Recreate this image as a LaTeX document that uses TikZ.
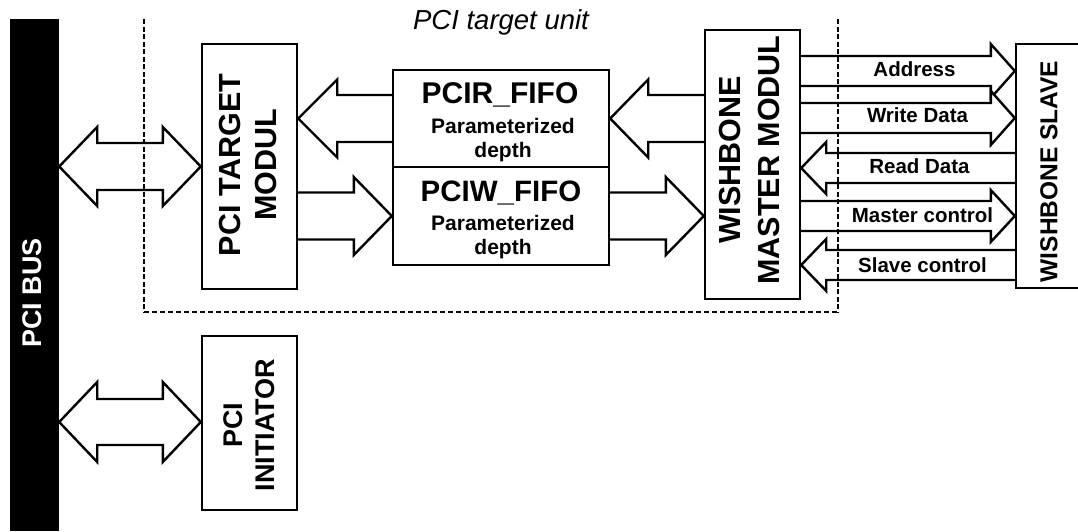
\documentclass[tikz,border=0pt]{standalone}
\usepackage{fontspec}
\setmainfont{Liberation Sans}
\usetikzlibrary{calc}
\tikzset{
  fat/.style={draw, line width=2.4pt, fill=white, line join=miter},
  box/.style={draw, line width=2.4pt, fill=white, inner sep=0pt},
  rotlab/.style={rotate=90, align=center, inner sep=0pt},
  unitv/.style={line width=1.3pt, dash pattern=on 5pt off 2.5pt},
  unith/.style={line width=2pt, dash pattern=on 5pt off 3pt},
  siglab/.style={anchor=base, inner sep=0pt, font=\bfseries\fontsize{20.5}{24}\selectfont},
}
% arrow pointing right: tail point #1, tip point #2 (y from tip), shaft half #3, head half #4, head length #5
\newcommand{\fatRight}[5]{%
  \draw[fat] let \p1=(#1), \p2=(#2) in
    (\x1,\y2+#3pt) -- (\x2-#5pt,\y2+#3pt) -- (\x2-#5pt,\y2+#4pt) -- (\x2,\y2)
    -- (\x2-#5pt,\y2-#4pt) -- (\x2-#5pt,\y2-#3pt) -- (\x1,\y2-#3pt);}
\newcommand{\fatLeft}[5]{%
  \draw[fat] let \p1=(#1), \p2=(#2) in
    (\x1,\y2+#3pt) -- (\x2+#5pt,\y2+#3pt) -- (\x2+#5pt,\y2+#4pt) -- (\x2,\y2)
    -- (\x2+#5pt,\y2-#4pt) -- (\x2+#5pt,\y2-#3pt) -- (\x1,\y2-#3pt);}
% double arrow: left tip #1, right tip #2 (y from #2)
\newcommand{\fatBoth}[5]{%
  \draw[fat] let \p1=(#1), \p2=(#2) in
    (\x1,\y2) -- (\x1+#5pt,\y2+#4pt) -- (\x1+#5pt,\y2+#3pt) -- (\x2-#5pt,\y2+#3pt)
    -- (\x2-#5pt,\y2+#4pt) -- (\x2,\y2) -- (\x2-#5pt,\y2-#4pt) -- (\x2-#5pt,\y2-#3pt)
    -- (\x1+#5pt,\y2-#3pt) -- (\x1+#5pt,\y2-#4pt) -- cycle;}
\begin{document}
\begin{tikzpicture}[x=1pt, y=-1pt]
\clip (0,0) rectangle (1078,531);
\fill[white] (0,0) rectangle (1078,531);

% boxes
\node[fill=black, inner sep=0pt, minimum width=49pt, minimum height=512pt] (bus) at (34.5,275) {};
\node[box, minimum width=95pt, minimum height=245pt] (target) at (249.5,166.5) {};
\node[box, minimum width=216pt, minimum height=97pt] (rfifo) at (501,118.5) {};
\node[box, minimum width=216pt, minimum height=98pt] (wfifo) at (501,216) {};
\node[box, minimum width=95pt, minimum height=269pt] (wbm) at (752.5,164.5) {};
\node[box, minimum width=90pt, minimum height=244pt] (wbs) at (1061,166) {};
\node[box, minimum width=95pt, minimum height=174pt] (init) at (249.5,423) {};

% fat arrows, left part
\fatBoth{bus.east |- target.west}{target.west}{23.5}{39.5}{38}
\fatLeft{rfifo.west}{target.east |- rfifo.west}{23.5}{39}{39}
\fatRight{target.east |- wfifo.west}{wfifo.west}{23.5}{39}{38}
\fatLeft{wbm.west |- rfifo.east}{rfifo.east}{23.5}{39}{38}
\fatRight{wfifo.east}{wbm.west |- wfifo.east}{23.5}{39}{38}
\coordinate (ib) at (0,422);
\fatBoth{bus.east |- ib}{init.west |- ib}{23}{40}{38}

% signal arrows, right part
\coordinate (ya) at (0,71);
\coordinate (yw) at (0,118);
\coordinate (yr) at (0,168);
\coordinate (ym) at (0,216);
\coordinate (ys) at (0,265);
\fatRight{wbm.east |- ya}{wbs.west |- ya}{15}{27}{24}
\fatRight{wbm.east |- yw}{wbs.west |- yw}{15}{27}{24}
\fatLeft{wbs.west |- yr}{wbm.east |- yr}{15}{26}{25}
\fatRight{wbm.east |- ym}{wbs.west |- ym}{15}{26}{24}
\fatLeft{wbs.west |- ys}{wbm.east |- ys}{15}{26}{25}

\node[siglab] (la) at (914.5,76) {Address};
\node[siglab] (lw) at (917.5,122.5) {Write Data};
\node[siglab] (lr) at (919.5,173) {Read Data};
\node[siglab] (lm) at (922.5,222) {Master control};
\node[siglab] (ls) at (922.5,272) {Slave control};

% dashed boundary of the PCI target unit
\coordinate (u1) at (144,19);
\coordinate (u2) at (144,312);
\coordinate (u3) at (838,312);
\coordinate (u4) at (838,19);
\draw[unitv] (u1) -- (u2);
\draw[unith] (u2) -- (u3);
\draw[unitv] (u4) -- (u3);
\node[anchor=base, inner sep=0pt, font=\itshape\fontsize{27.5}{27.5}\selectfont] (title) at (501,29) {PCI target unit};

% labels
\node[rotlab, text=white, font=\bfseries\fontsize{27}{30}\selectfont] (lbus) at (32,293) {PCI BUS};
\node[rotlab, font=\bfseries\fontsize{30.5}{36.5}\selectfont] (ltarget) at (248,165) {PCI TARGET\\MODUL};
\node[rotlab, font=\bfseries\fontsize{30.5}{39.5}\selectfont] (lwbm) at (749.5,160) {WISHBONE\\MASTER MODUL};
\node[rotlab, font=\bfseries\fontsize{24.5}{28}\selectfont] (lwbs) at (1049,171.5) {WISHBONE SLAVE};
\node[rotlab, font=\bfseries\fontsize{27}{32.5}\selectfont] (linit) at (249,425) {PCI\\INITIATOR};

\node[anchor=base, inner sep=0pt, font=\bfseries\fontsize{30}{30}\selectfont] (rt) at (500,103.5) {PCIR\_FIFO};
\node[anchor=base, inner sep=0pt, font=\bfseries\fontsize{21}{24}\selectfont] (rp) at (503,133.3) {Parameterized};
\node[anchor=base, inner sep=0pt, font=\bfseries\fontsize{21}{24}\selectfont] (rd) at (503,157) {depth};
\node[anchor=base, inner sep=0pt, font=\bfseries\fontsize{29.5}{30}\selectfont] (wt) at (501,201) {PCIW\_FIFO};
\node[anchor=base, inner sep=0pt, font=\bfseries\fontsize{21}{24}\selectfont] (wp) at (503,230) {Parameterized};
\node[anchor=base, inner sep=0pt, font=\bfseries\fontsize{21}{24}\selectfont] (wd) at (503,254) {depth};
\end{tikzpicture}
\end{document}
